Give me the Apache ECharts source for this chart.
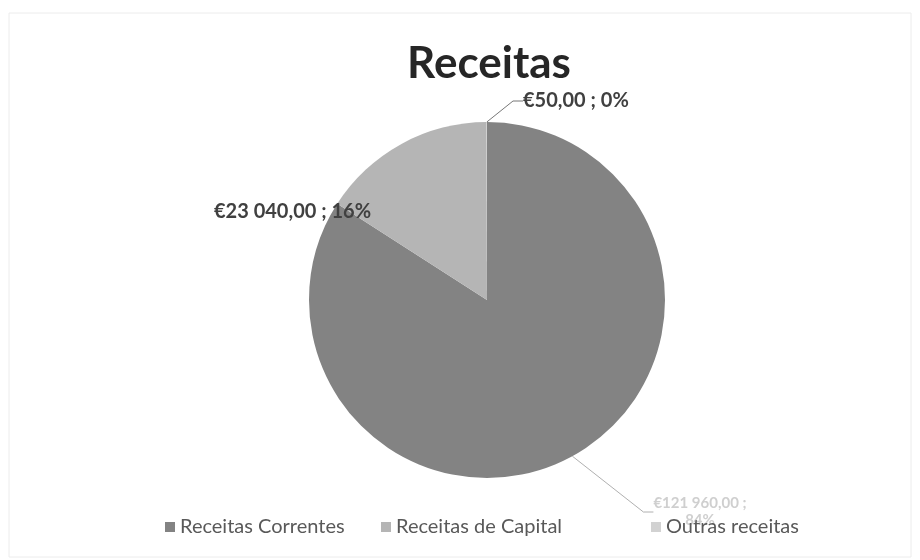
<!DOCTYPE html>
<html>
<head>
<meta charset="utf-8">
<script src="https://cdn.jsdelivr.net/npm/echarts@6/dist/echarts.min.js"></script>
<style>
  html, body { margin: 0; padding: 0; background: #fff; }
  #chart { width: 920px; height: 560px; }
</style>
</head>
<body>
<div id="chart"></div>
<script>
// dados do gráfico
const categorias = ['Receitas Correntes', 'Receitas de Capital', 'Outras receitas']
const valores = [121960, 23040, 50]
const cores = ['#838383', '#b5b5b5', '#d2d2d2']

const fmtEuro = v => {
  const [int, dec] = v.toFixed(2).split('.')
  return '€' + int.replace(/\B(?=(\d{3})+(?!\d))/g, ' ') + ',' + dec
}

const myChart = echarts.init(document.getElementById('chart'))

// posição das etiquetas (como o Excel as colocou)
const labelPos = [
  { x: 700, y: 512, align: 'center', verticalAlign: 'middle' },
  { x: 214, y: 212, align: 'left', verticalAlign: 'middle' },
  { x: 523, y: 101, align: 'left', verticalAlign: 'middle' }
]

// uma legenda por item, para os espaçar como no Excel
const legendLeft = [160, 376, 646]

const option = {
  backgroundColor: '#fff',
  title: {
    text: 'Receitas',
    left: 484,
    textAlign: 'center',
    top: 37,
    textStyle: { fontFamily: 'Lato', fontSize: 44, fontWeight: 'bold', color: '#262626' }
  },
  legend: categorias.map((nome, i) => ({
    bottom: 18,
    left: legendLeft[i],
    itemWidth: 10,
    itemHeight: 10,
    icon: 'rect',
    textStyle: { fontFamily: 'Lato', fontSize: 20, color: '#595959' },
    data: [nome]
  })),
  graphic: [{
    type: 'rect',
    shape: { x: 9, y: 13, width: 902, height: 544 },
    style: { fill: 'none', stroke: '#ececec', lineWidth: 1 }
  }],
  series: [{
    type: 'pie',
    center: [487, 300],
    radius: 178,
    startAngle: 90,
    clockwise: true,
    avoidLabelOverlap: false,
    silent: true,
    label: {
      show: true,
      position: 'outside',
      fontFamily: 'Lato',
      fontSize: 20,
      fontWeight: 'bold',
      color: '#404040',
      formatter: p => fmtEuro(p.value) + ' ; ' + Math.round(p.percent) + '%'
    },
    labelLine: {
      show: true,
      length: 8,
      length2: 10,
      lineStyle: { color: '#777', width: 1 }
    },
    labelLayout: p => labelPos[p.dataIndex],
    data: categorias.map((nome, i) => ({
      name: nome,
      value: valores[i],
      itemStyle: { color: cores[i] },
      label: i === 0 ? {
        color: '#cfcfcf',
        fontSize: 15,
        lineHeight: 17,
        formatter: p => fmtEuro(p.value) + ' ;\n' + Math.round(p.percent) + '%'
      } : undefined,
      labelLine: i === 0 ? { lineStyle: { color: '#b0b0b0' } } : (i === 1 ? { show: false } : undefined)
    }))
  }]
}

myChart.setOption(option)
</script>
</body>
</html>
